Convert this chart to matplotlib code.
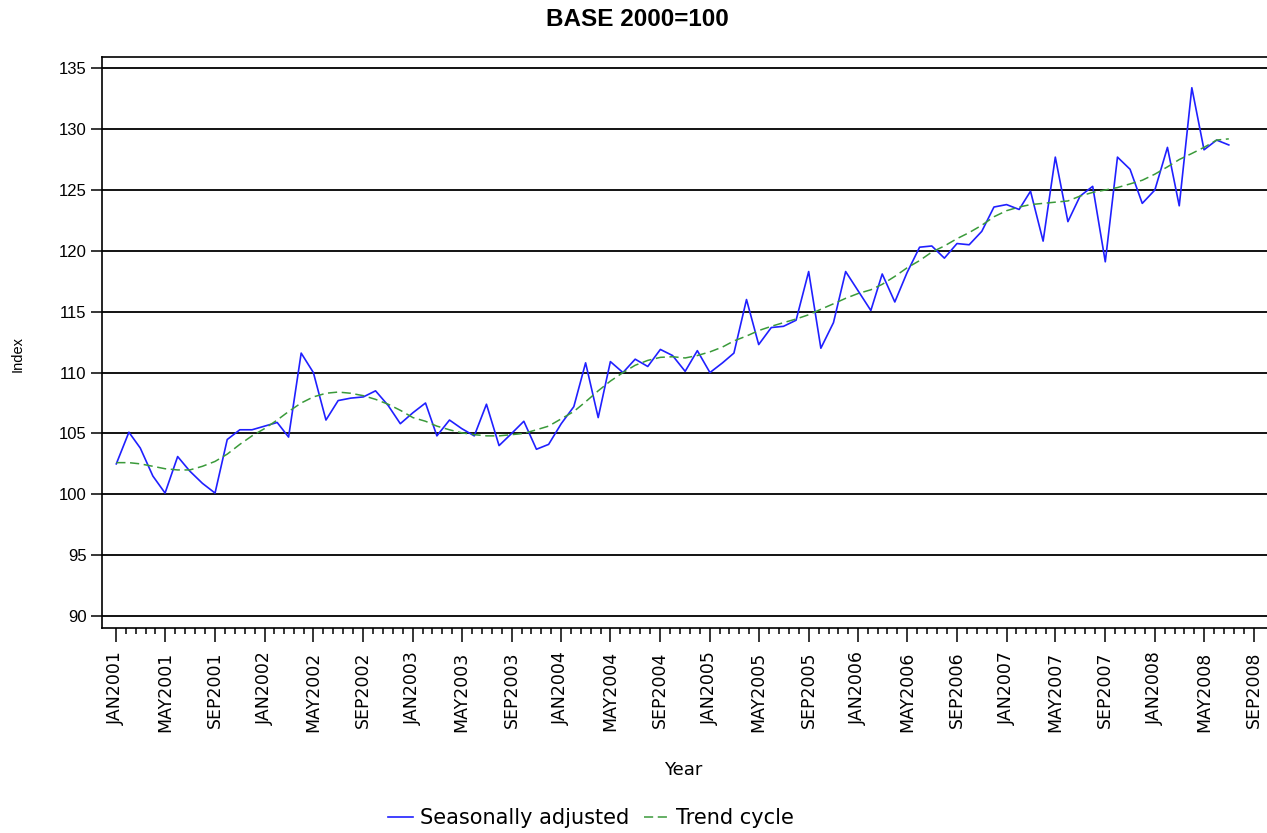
import datetime
import numpy as np
import matplotlib
matplotlib.use("Agg")
from matplotlib import pyplot as plt
import matplotlib.dates as mdates
from matplotlib.ticker import FixedLocator, FuncFormatter

# monthly index, base 2000=100, JAN2001 .. JUL2008
months = np.arange('2001-01', '2008-08', dtype='datetime64[M]').astype('datetime64[D]')

seasonally_adjusted = [
    102.5, 105.1, 103.8, 101.5, 100.1, 103.1, 101.9, 100.9, 100.1, 104.5, 105.3, 105.3,
    105.6, 105.9, 104.7, 111.6, 110.0, 106.1, 107.7, 107.9, 108.0, 108.5, 107.3, 105.8,
    106.7, 107.5, 104.8, 106.1, 105.4, 104.8, 107.4, 104.0, 105.0, 106.0, 103.7, 104.1,
    105.8, 107.2, 110.8, 106.3, 110.9, 110.0, 111.1, 110.5, 111.9, 111.4, 110.1, 111.8,
    110.0, 110.8, 111.6, 116.0, 112.3, 113.7, 113.8, 114.3, 118.3, 112.0, 114.1, 118.3,
    116.7, 115.1, 118.1, 115.8, 118.2, 120.3, 120.4, 119.4, 120.6, 120.5, 121.6, 123.6,
    123.8, 123.4, 124.9, 120.8, 127.7, 122.4, 124.5, 125.3, 119.1, 127.7, 126.7, 123.9,
    125.0, 128.5, 123.7, 133.4, 128.3, 129.1, 128.7,
]

trend_cycle = [
    102.6, 102.6, 102.5, 102.3, 102.1, 102.0, 102.0, 102.3, 102.7, 103.3, 104.1, 104.8,
    105.4, 106.1, 106.8, 107.5, 108.0, 108.3, 108.4, 108.3, 108.1, 107.8, 107.4, 106.9,
    106.3, 106.0, 105.6, 105.3, 105.05, 104.9, 104.8, 104.8, 104.9, 105.0, 105.3, 105.6,
    106.2, 106.8, 107.6, 108.5, 109.3, 110.0, 110.6, 111.0, 111.25, 111.3, 111.2, 111.4,
    111.7, 112.1, 112.6, 113.0, 113.45, 113.8, 114.1, 114.4, 114.75, 115.2, 115.65, 116.1,
    116.5, 116.8, 117.25, 117.9, 118.6, 119.2, 119.9, 120.4, 121.0, 121.5, 122.1, 122.8,
    123.3, 123.6, 123.8, 123.9, 124.0, 124.1, 124.5, 124.8, 125.0, 125.2, 125.5, 125.8,
    126.3, 126.9, 127.5, 128.0, 128.5, 129.1, 129.2,
]

y_ticks = [90, 95, 100, 105, 110, 115, 120, 125, 130, 135]

W, H = 1267, 833
fig = plt.figure(figsize=(W / 100, H / 100), dpi=100)
ax = fig.add_axes([101.7 / W, 1 - 627.7 / H, (1270 - 101.7) / W, (627.7 - 56.7) / H])

ax.plot(months, seasonally_adjusted, color='#2020ff', lw=1.2, label='Seasonally adjusted')
ax.plot(months, trend_cycle, color='#3a9a3a', lw=1.1, dashes=(6, 3), label='Trend cycle')

# x axis: major every 4 months, 4 minor ticks in between
base = mdates.date2num(datetime.datetime(2001, 1, 1))
px_day = (1254 - 116.3) / 2800.0
ax.set_xlim(base + (101.7 - 116.3) / px_day, base + (1270 - 116.3) / px_day)
ax.set_ylim(89.04, 135.95)

majors = [mdates.date2num(datetime.datetime(y, m, 1))
          for y in range(2001, 2009) for m in (1, 5, 9)
          if datetime.datetime(y, m, 1) <= datetime.datetime(2008, 9, 1)]
minors = [a + (b - a) * k / 5 for a, b in zip(majors[:-1], majors[1:]) for k in range(1, 5)]
ax.xaxis.set_major_locator(FixedLocator(majors))
ax.xaxis.set_minor_locator(FixedLocator(minors))
ax.xaxis.set_major_formatter(FuncFormatter(
    lambda v, p: mdates.num2date(v).strftime('%b%Y').upper()))

ax.set_yticks(y_ticks)
ax.yaxis.grid(True, color='black', lw=1.3)
ax.set_axisbelow(True)

ax.tick_params(axis='x', which='major', length=10, width=1.1, pad=7,
               labelrotation=90, labelsize=12.5)
ax.tick_params(axis='x', which='minor', length=4.3, width=1.1)
ax.tick_params(axis='y', length=8, width=1.1, pad=3, labelsize=12)
for lab in ax.get_xticklabels():
    lab.set_family('DejaVu Sans')
for lab in ax.get_yticklabels():
    lab.set_family('Liberation Sans')

for s in ax.spines.values():
    s.set_linewidth(1.2)

fig.text(637.5 / W, 1 - 20 / H, 'BASE 2000=100', ha='center', va='center',
         fontsize=17.5, fontweight='bold', family='Liberation Sans')
fig.text(683 / W, 1 - 770 / H, 'Year', ha='center', va='center',
         fontsize=13, family='DejaVu Sans')
fig.text(18 / W, 1 - 354 / H, 'Index', ha='center', va='center', rotation=90,
         fontsize=10.5, family='Liberation Sans')

fig.legend(loc='center', bbox_to_anchor=(591 / W, 1 - 818 / H), ncol=2, frameon=False,
           prop={'family': 'DejaVu Sans', 'size': 15}, handlelength=1.2,
           handletextpad=0.35, columnspacing=0.7, borderaxespad=0)

fig.savefig('out.png', dpi=100)
